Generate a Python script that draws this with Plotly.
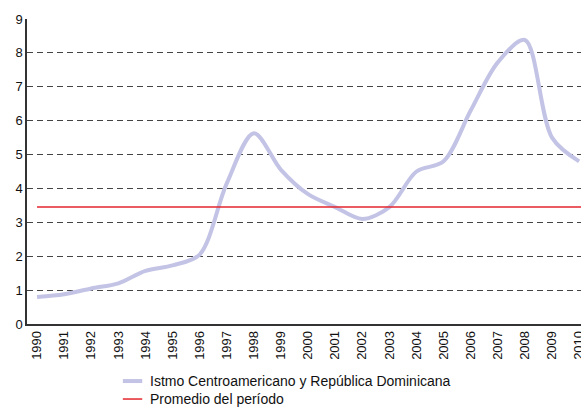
import plotly.graph_objects as go

# Annual series, 1990-2010
years = list(range(1990, 2011))
istmo = [0.80, 0.88, 1.05, 1.20, 1.57, 1.73, 2.05, 4.15, 5.63, 4.55, 3.83,
         3.45, 3.10, 3.45, 4.50, 4.80, 6.30, 7.72, 8.38, 5.50, 4.80]
promedio_valor = 3.45

y_ticks = list(range(0, 10))

serie_nombre = "Istmo Centroamericano y República Dominicana"
promedio_nombre = "Promedio del período"
serie_color = "#c3c3e6"
promedio_color = "#e3262c"

fig = go.Figure()

fig.add_trace(go.Scatter(
    x=years, y=istmo, mode="lines", name=serie_nombre,
    line=dict(color=serie_color, width=4, shape="spline", smoothing=0.9),
))
fig.add_trace(go.Scatter(
    x=[years[0], years[-1] + 0.5], y=[promedio_valor, promedio_valor], mode="lines",
    name=promedio_nombre,
    line=dict(color=promedio_color, width=1.5),
))

# Compact legend below the plot: short line sample followed by the label
legend_items = [(serie_nombre, serie_color, 4, -0.187), (promedio_nombre, promedio_color, 1.5, -0.246)]
for texto, color, ancho, yp in legend_items:
    fig.add_shape(type="line", xref="paper", yref="paper",
                  x0=0.173, x1=0.208, y0=yp, y1=yp,
                  line=dict(color=color, width=ancho))
    fig.add_annotation(xref="paper", yref="paper", x=0.218, y=yp,
                       xanchor="left", yanchor="middle", showarrow=False,
                       text=texto, font=dict(size=14, color="#111"))

fig.update_layout(
    width=581, height=409,
    margin=dict(l=27, r=0, t=19, b=85),
    paper_bgcolor="white", plot_bgcolor="white",
    font=dict(family="Liberation Sans, Arial, sans-serif", size=13, color="#111"),
    showlegend=False,
    xaxis=dict(
        range=[1989.63, 2010.07], automargin=False,
        tickmode="array", tickvals=years, ticktext=[str(y) for y in years],
        tickangle=-90, showgrid=False, zeroline=False,
        showline=True, linecolor="#333", linewidth=1.5,
        ticks="", tickfont=dict(size=13), ticklabeloverflow="allow",
    ),
    yaxis=dict(
        range=[0, 9], automargin=False,
        tickmode="array", tickvals=y_ticks,
        showgrid=True, gridcolor="#444", griddash="6px,4px", gridwidth=1,
        zeroline=False, showline=True, linecolor="#333", linewidth=1.5,
        ticks="", tickfont=dict(size=13),
    ),
)

fig.write_html("out.html")
